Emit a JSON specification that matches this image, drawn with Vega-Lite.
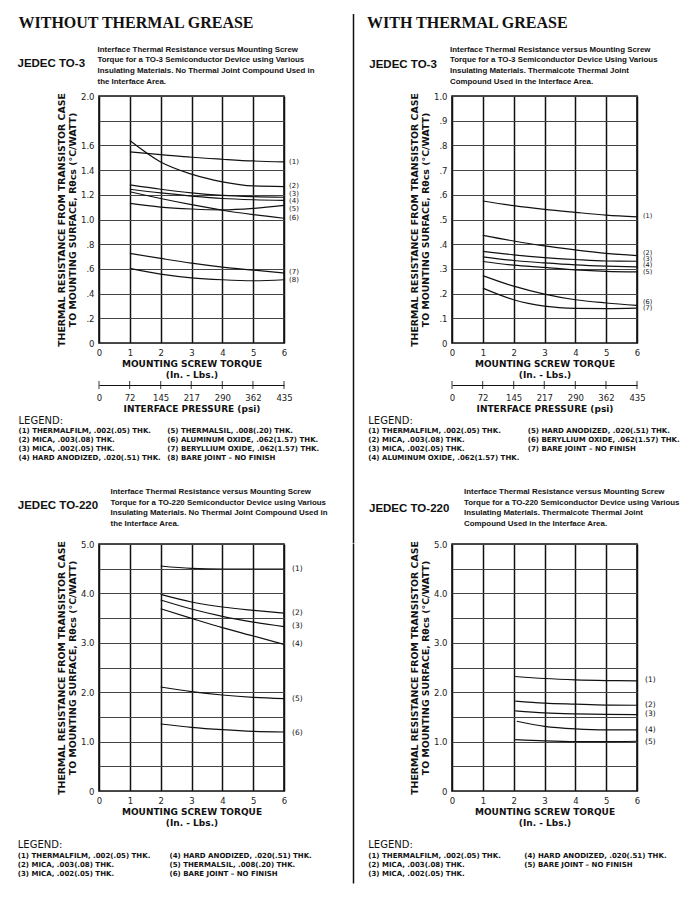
{
  "$schema": "https://vega.github.io/schema/vega-lite/v6.json",
  "padding": {"left": 17, "top": 13, "right": 5, "bottom": 5},
  "background": "white",
  "datasets": {
    "to3_dry": [
      {"curve":"(1)","torque":1,"r":1.547},{"curve":"(1)","torque":2,"r":1.526},{"curve":"(1)","torque":3,"r":1.504},{"curve":"(1)","torque":4,"r":1.488},{"curve":"(1)","torque":5,"r":1.474},{"curve":"(1)","torque":6,"r":1.466},
      {"curve":"(2)","torque":1,"r":1.64},{"curve":"(2)","torque":2,"r":1.466},{"curve":"(2)","torque":3,"r":1.367},{"curve":"(2)","torque":4,"r":1.305},{"curve":"(2)","torque":5,"r":1.272},{"curve":"(2)","torque":6,"r":1.267},
      {"curve":"(3)","torque":1,"r":1.28},{"curve":"(3)","torque":2,"r":1.245},{"curve":"(3)","torque":3,"r":1.215},{"curve":"(3)","torque":4,"r":1.195},{"curve":"(3)","torque":5,"r":1.185},{"curve":"(3)","torque":6,"r":1.18},
      {"curve":"(4)","torque":1,"r":1.245},{"curve":"(4)","torque":2,"r":1.215},{"curve":"(4)","torque":3,"r":1.19},{"curve":"(4)","torque":4,"r":1.17},{"curve":"(4)","torque":5,"r":1.16},{"curve":"(4)","torque":6,"r":1.155},
      {"curve":"(5)","torque":1,"r":1.13},{"curve":"(5)","torque":2,"r":1.1},{"curve":"(5)","torque":3,"r":1.085},{"curve":"(5)","torque":4,"r":1.078},{"curve":"(5)","torque":5,"r":1.09},{"curve":"(5)","torque":6,"r":1.115},
      {"curve":"(6)","torque":1,"r":1.225},{"curve":"(6)","torque":2,"r":1.17},{"curve":"(6)","torque":3,"r":1.12},{"curve":"(6)","torque":4,"r":1.075},{"curve":"(6)","torque":5,"r":1.04},{"curve":"(6)","torque":6,"r":1.01},
      {"curve":"(7)","torque":1,"r":0.725},{"curve":"(7)","torque":2,"r":0.685},{"curve":"(7)","torque":3,"r":0.647},{"curve":"(7)","torque":4,"r":0.615},{"curve":"(7)","torque":5,"r":0.59},{"curve":"(7)","torque":6,"r":0.566},
      {"curve":"(8)","torque":1,"r":0.604},{"curve":"(8)","torque":2,"r":0.558},{"curve":"(8)","torque":3,"r":0.528},{"curve":"(8)","torque":4,"r":0.512},{"curve":"(8)","torque":5,"r":0.504},{"curve":"(8)","torque":6,"r":0.512}
    ],
    "to3_dry_labels": [
      {"curve":"(1)","r":1.466},{"curve":"(2)","r":1.274},{"curve":"(3)","r":1.205},{"curve":"(4)","r":1.146},{"curve":"(5)","r":1.087},{"curve":"(6)","r":1.012},{"curve":"(7)","r":0.572},{"curve":"(8)","r":0.51}
    ],
    "to3_grease": [
      {"curve":"(1)","torque":1,"r":0.575},{"curve":"(1)","torque":2,"r":0.556},{"curve":"(1)","torque":3,"r":0.541},{"curve":"(1)","torque":4,"r":0.529},{"curve":"(1)","torque":5,"r":0.518},{"curve":"(1)","torque":6,"r":0.511},
      {"curve":"(2)","torque":1,"r":0.436},{"curve":"(2)","torque":2,"r":0.413},{"curve":"(2)","torque":3,"r":0.393},{"curve":"(2)","torque":4,"r":0.377},{"curve":"(2)","torque":5,"r":0.363},{"curve":"(2)","torque":6,"r":0.354},
      {"curve":"(3)","torque":1,"r":0.371},{"curve":"(3)","torque":2,"r":0.357},{"curve":"(3)","torque":3,"r":0.346},{"curve":"(3)","torque":4,"r":0.338},{"curve":"(3)","torque":5,"r":0.332},{"curve":"(3)","torque":6,"r":0.331},
      {"curve":"(4)","torque":1,"r":0.349},{"curve":"(4)","torque":2,"r":0.334},{"curve":"(4)","torque":3,"r":0.324},{"curve":"(4)","torque":4,"r":0.316},{"curve":"(4)","torque":5,"r":0.311},{"curve":"(4)","torque":6,"r":0.308},
      {"curve":"(5)","torque":1,"r":0.33},{"curve":"(5)","torque":2,"r":0.315},{"curve":"(5)","torque":3,"r":0.306},{"curve":"(5)","torque":4,"r":0.296},{"curve":"(5)","torque":5,"r":0.29},{"curve":"(5)","torque":6,"r":0.288},
      {"curve":"(6)","torque":1,"r":0.273},{"curve":"(6)","torque":2,"r":0.23},{"curve":"(6)","torque":3,"r":0.198},{"curve":"(6)","torque":4,"r":0.175},{"curve":"(6)","torque":5,"r":0.162},{"curve":"(6)","torque":6,"r":0.152},
      {"curve":"(7)","torque":1,"r":0.222},{"curve":"(7)","torque":2,"r":0.175},{"curve":"(7)","torque":3,"r":0.149},{"curve":"(7)","torque":4,"r":0.14},{"curve":"(7)","torque":5,"r":0.139},{"curve":"(7)","torque":6,"r":0.141}
    ],
    "to3_grease_labels": [
      {"curve":"(1)","r":0.514},{"curve":"(2)","r":0.366},{"curve":"(3)","r":0.34},{"curve":"(4)","r":0.314},{"curve":"(5)","r":0.288},{"curve":"(6)","r":0.166},{"curve":"(7)","r":0.14}
    ],
    "to220_dry": [
      {"curve":"(1)","torque":2,"r":4.555},{"curve":"(1)","torque":3,"r":4.507},{"curve":"(1)","torque":4,"r":4.494},{"curve":"(1)","torque":5,"r":4.494},{"curve":"(1)","torque":6,"r":4.494},
      {"curve":"(2)","torque":2,"r":3.98},{"curve":"(2)","torque":3,"r":3.826},{"curve":"(2)","torque":4,"r":3.725},{"curve":"(2)","torque":5,"r":3.657},{"curve":"(2)","torque":6,"r":3.6},
      {"curve":"(3)","torque":2,"r":3.866},{"curve":"(3)","torque":3,"r":3.684},{"curve":"(3)","torque":4,"r":3.536},{"curve":"(3)","torque":5,"r":3.42},{"curve":"(3)","torque":6,"r":3.327},
      {"curve":"(4)","torque":2,"r":3.69},{"curve":"(4)","torque":3,"r":3.495},{"curve":"(4)","torque":4,"r":3.306},{"curve":"(4)","torque":5,"r":3.138},{"curve":"(4)","torque":6,"r":2.969},
      {"curve":"(5)","torque":2,"r":2.105},{"curve":"(5)","torque":3,"r":2.011},{"curve":"(5)","torque":4,"r":1.943},{"curve":"(5)","torque":5,"r":1.896},{"curve":"(5)","torque":6,"r":1.869},
      {"curve":"(6)","torque":2,"r":1.356},{"curve":"(6)","torque":3,"r":1.289},{"curve":"(6)","torque":4,"r":1.242},{"curve":"(6)","torque":5,"r":1.208},{"curve":"(6)","torque":6,"r":1.194}
    ],
    "to220_dry_labels": [
      {"curve":"(1)","r":4.49},{"curve":"(2)","r":3.6},{"curve":"(3)","r":3.33},{"curve":"(4)","r":2.98},{"curve":"(5)","r":1.86},{"curve":"(6)","r":1.18}
    ],
    "to220_grease": [
      {"curve":"(1)","torque":2.05,"r":2.318},{"curve":"(1)","torque":3,"r":2.277},{"curve":"(1)","torque":4,"r":2.25},{"curve":"(1)","torque":5,"r":2.236},{"curve":"(1)","torque":6,"r":2.23},
      {"curve":"(2)","torque":2.05,"r":1.818},{"curve":"(2)","torque":3,"r":1.777},{"curve":"(2)","torque":4,"r":1.757},{"curve":"(2)","torque":5,"r":1.74},{"curve":"(2)","torque":6,"r":1.736},
      {"curve":"(3)","torque":2.05,"r":1.62},{"curve":"(3)","torque":3,"r":1.58},{"curve":"(3)","torque":4,"r":1.56},{"curve":"(3)","torque":5,"r":1.55},{"curve":"(3)","torque":6,"r":1.547},
      {"curve":"(4)","torque":2.1,"r":1.412},{"curve":"(4)","torque":3,"r":1.31},{"curve":"(4)","torque":4,"r":1.257},{"curve":"(4)","torque":5,"r":1.236},{"curve":"(4)","torque":6,"r":1.236},
      {"curve":"(5)","torque":2.05,"r":1.04},{"curve":"(5)","torque":3,"r":1.014},{"curve":"(5)","torque":4,"r":1.0},{"curve":"(5)","torque":5,"r":1.0},{"curve":"(5)","torque":6,"r":1.007}
    ],
    "to220_grease_labels": [
      {"curve":"(1)","r":2.24},{"curve":"(2)","r":1.74},{"curve":"(3)","r":1.55},{"curve":"(4)","r":1.23},{"curve":"(5)","r":1.0}
    ],
    "pressure": [{"psi":0},{"psi":72},{"psi":145},{"psi":217},{"psi":290},{"psi":362},{"psi":435}],
    "leg_to3_dry": [
      {"id":1,"label":"(1) THERMALFILM, .002(.05) THK."},
      {"id":2,"label":"(2) MICA, .003(.08) THK."},
      {"id":3,"label":"(3) MICA, .002(.05) THK."},
      {"id":4,"label":"(4) HARD ANODIZED, .020(.51) THK."},
      {"id":5,"label":"(5) THERMALSIL, .008(.20) THK."},
      {"id":6,"label":"(6) ALUMINUM OXIDE, .062(1.57) THK."},
      {"id":7,"label":"(7) BERYLLIUM OXIDE, .062(1.57) THK."},
      {"id":8,"label":"(8) BARE JOINT – NO FINISH"}
    ],
    "leg_to3_grease": [
      {"id":1,"label":"(1) THERMALFILM, .002(.05) THK."},
      {"id":2,"label":"(2) MICA, .003(.08) THK."},
      {"id":3,"label":"(3) MICA, .002(.05) THK."},
      {"id":4,"label":"(4) ALUMINUM OXIDE, .062(1.57) THK."},
      {"id":5,"label":"(5) HARD ANODIZED, .020(.51) THK."},
      {"id":6,"label":"(6) BERYLLIUM OXIDE, .062(1.57) THK."},
      {"id":7,"label":"(7) BARE JOINT – NO FINISH"}
    ],
    "leg_to220_dry": [
      {"id":1,"label":"(1) THERMALFILM, .002(.05) THK."},
      {"id":2,"label":"(2) MICA, .003(.08) THK."},
      {"id":3,"label":"(3) MICA, .002(.05) THK."},
      {"id":4,"label":"(4) HARD ANODIZED, .020(.51) THK."},
      {"id":5,"label":"(5) THERMALSIL, .008(.20) THK."},
      {"id":6,"label":"(6) BARE JOINT – NO FINISH"}
    ],
    "leg_to220_grease": [
      {"id":1,"label":"(1) THERMALFILM, .002(.05) THK."},
      {"id":2,"label":"(2) MICA, .003(.08) THK."},
      {"id":3,"label":"(3) MICA, .002(.05) THK."},
      {"id":4,"label":"(4) HARD ANODIZED, .020(.51) THK."},
      {"id":5,"label":"(5) BARE JOINT – NO FINISH"}
    ]
  },
  "columns": 3,
  "align": "each",
  "bounds": "flush",
  "spacing": {"row": 0, "column": 69.5},
  "concat": [
    {
      "width": 185, "height": 82, "view": {"stroke": null},
      "data": {"values": [{"heading": "WITHOUT THERMAL GREASE", "device": "JEDEC TO-3", "desc": "Interface Thermal Resistance versus Mounting Screw\nTorque for a TO-3 Semiconductor Device using Various\nInsulating Materials. No Thermal Joint Compound Used in\nthe Interface Area."}]},
      "encoding": {
        "x": {"datum": 0, "type": "quantitative", "scale": {"domain": [0, 1]}, "axis": null}
      },
      "layer": [
        {"mark": {"type": "text", "align": "left", "baseline": "alphabetic", "dx": -80.5, "font": "Liberation Serif", "fontSize": 16, "fontWeight": "bold", "color": "#111"},
         "encoding": {"y": {"datum": 0.174, "type": "quantitative", "scale": {"domain": [0, 1], "reverse": true, "nice": false}, "axis": null}, "text": {"field": "heading"}}},
        {"mark": {"type": "text", "align": "left", "baseline": "middle", "dx": -81.5, "font": "Liberation Sans", "fontSize": 11.5, "fontWeight": "bold", "color": "#111"},
         "encoding": {"y": {"datum": 0.613, "type": "quantitative", "axis": null}, "text": {"field": "device"}}},
        {"mark": {"type": "text", "align": "left", "baseline": "middle", "dx": -1.5, "font": "Liberation Sans", "fontSize": 7.9, "fontWeight": "bold", "lineBreak": "\n", "lineHeight": 10.7, "color": "#111"},
         "encoding": {"y": {"datum": 0.433, "type": "quantitative", "axis": null}, "text": {"field": "desc"}}}
      ]
    },
    {
      "width": 28.5, "height": 82, "view": {"stroke": null},
      "data": {"values": [{"part": "divider"}]},
      "mark": {"type": "rule", "color": "#111", "strokeWidth": 1.5},
      "encoding": {"x": {"datum": 0, "type": "quantitative", "scale": {"domain": [0, 1]}, "axis": null}}
    },
    {
      "width": 185, "height": 82, "view": {"stroke": null},
      "data": {"values": [{"heading": "WITH THERMAL GREASE", "device": "JEDEC TO-3", "desc": "Interface Thermal Resistance versus Mounting Screw\nTorque for a TO-3 Semiconductor Device Using Various\nInsulating Materials. Thermalcote Thermal Joint\nCompound Used in the Interface Area."}]},
      "encoding": {
        "x": {"datum": 0, "type": "quantitative", "scale": {"domain": [0, 1]}, "axis": null}
      },
      "layer": [
        {"mark": {"type": "text", "align": "left", "baseline": "alphabetic", "dx": -85, "font": "Liberation Serif", "fontSize": 16, "fontWeight": "bold", "color": "#111"},
         "encoding": {"y": {"datum": 0.174, "type": "quantitative", "scale": {"domain": [0, 1], "reverse": true, "nice": false}, "axis": null}, "text": {"field": "heading"}}},
        {"mark": {"type": "text", "align": "left", "baseline": "middle", "dx": -82.7, "font": "Liberation Sans", "fontSize": 11.5, "fontWeight": "bold", "color": "#111"},
         "encoding": {"y": {"datum": 0.622, "type": "quantitative", "axis": null}, "text": {"field": "device"}}},
        {"mark": {"type": "text", "align": "left", "baseline": "middle", "dx": -2, "font": "Liberation Sans", "fontSize": 7.9, "fontWeight": "bold", "lineBreak": "\n", "lineHeight": 10.7, "color": "#111"},
         "encoding": {"y": {"datum": 0.433, "type": "quantitative", "axis": null}, "text": {"field": "desc"}}}
      ]
    },
    {
      "width": 185, "height": 247,
      "layer": [
        {"data": {"name": "to3_dry"},
         "mark": {"type": "line", "color": "#111", "strokeWidth": 1.2, "interpolate": "monotone"},
         "encoding": {
           "x": {"field": "torque", "type": "quantitative", "scale": {"domain": [0, 6], "nice": false, "zero": false},
                 "axis": {"orient": "bottom", "values": [0,1,2,3,4,5,6], "grid": true, "gridColor": "#111", "gridWidth": 1.5, "labelPadding": 5, "labelFlush": false, "labelOverlap": false, "title": ["MOUNTING SCREW TORQUE", "(In. - Lbs.)"], "titleFontSize": 9, "titlePadding": 3, "titleLineHeight": 11}},
           "y": {"field": "r", "type": "quantitative", "scale": {"domain": [0, 2], "nice": false},
                 "axis": {"values": [0,0.2,0.4,0.6,0.8,1,1.2,1.4,1.6,1.8,2], "grid": true, "gridColor": "#444", "gridWidth": 1, "labelPadding": 5, "labelFlush": false, "labelOverlap": false, "labelExpr": "datum.value == 0 ? '0' : datum.value < 0.99 ? '.' + round(datum.value * 10) : abs(datum.value - 1.8) < 0.01 ? '' : format(datum.value, '.1f')", "title": ["THERMAL RESISTANCE FROM TRANSISTOR CASE", "TO MOUNTING SURFACE, Rθcs (°C/WATT)"], "titleFontSize": 9.4, "titlePadding": 3, "titleLineHeight": 10.5}},
           "detail": {"field": "curve", "type": "nominal"}
         }},
        {"data": {"name": "to3_dry_labels"},
         "mark": {"type": "text", "align": "left", "baseline": "middle", "dx": 5, "fontSize": 7, "color": "#111"},
         "encoding": {
           "x": {"datum": 6, "type": "quantitative",
                 "axis": {"orient": "bottom", "values": [0,1,2,3,4,5,6], "grid": true, "gridColor": "#111", "gridWidth": 1.5, "labelPadding": 5, "labelFlush": false, "labelOverlap": false, "title": ["MOUNTING SCREW TORQUE", "(In. - Lbs.)"], "titleFontSize": 9, "titlePadding": 3, "titleLineHeight": 11}},
           "y": {"field": "r", "type": "quantitative",
                 "axis": {"values": [0,0.2,0.4,0.6,0.8,1,1.2,1.4,1.6,1.8,2], "grid": true, "gridColor": "#444", "gridWidth": 1, "labelPadding": 5, "labelFlush": false, "labelOverlap": false, "labelExpr": "datum.value == 0 ? '0' : datum.value < 0.99 ? '.' + round(datum.value * 10) : abs(datum.value - 1.8) < 0.01 ? '' : format(datum.value, '.1f')", "title": ["THERMAL RESISTANCE FROM TRANSISTOR CASE", "TO MOUNTING SURFACE, Rθcs (°C/WATT)"], "titleFontSize": 9.4, "titlePadding": 3, "titleLineHeight": 10.5}},
           "text": {"field": "curve"}}}
      ]
    },
    {
      "width": 28.5, "height": 247, "view": {"stroke": null},
      "data": {"values": [{"part": "divider"}]},
      "mark": {"type": "rule", "color": "#111", "strokeWidth": 1.5},
      "encoding": {"x": {"datum": 0, "type": "quantitative", "scale": {"domain": [0, 1]}, "axis": null}}
    },
    {
      "width": 185, "height": 247,
      "layer": [
        {"data": {"name": "to3_grease"},
         "mark": {"type": "line", "color": "#111", "strokeWidth": 1.2, "interpolate": "monotone"},
         "encoding": {
           "x": {"field": "torque", "type": "quantitative", "scale": {"domain": [0, 6], "nice": false, "zero": false},
                 "axis": {"orient": "bottom", "values": [0,1,2,3,4,5,6], "grid": true, "gridColor": "#111", "gridWidth": 1.5, "labelPadding": 5, "labelFlush": false, "labelOverlap": false, "title": ["MOUNTING SCREW TORQUE", "(In. - Lbs.)"], "titleFontSize": 9, "titlePadding": 3, "titleLineHeight": 11}},
           "y": {"field": "r", "type": "quantitative", "scale": {"domain": [0, 1], "nice": false},
                 "axis": {"values": [0,0.1,0.2,0.3,0.4,0.5,0.6,0.7,0.8,0.9,1], "grid": true, "gridColor": "#444", "gridWidth": 1, "labelPadding": 5, "labelFlush": false, "labelOverlap": false, "labelExpr": "datum.value == 0 ? '0' : datum.value < 0.99 ? '.' + round(datum.value * 10) : format(datum.value, '.1f')", "title": ["THERMAL RESISTANCE FROM TRANSISTOR CASE", "TO MOUNTING SURFACE, Rθcs (°C/WATT)"], "titleFontSize": 9.4, "titlePadding": 3, "titleLineHeight": 10.5}},
           "detail": {"field": "curve", "type": "nominal"}
         }},
        {"data": {"name": "to3_grease_labels"},
         "mark": {"type": "text", "align": "left", "baseline": "middle", "dx": 6, "fontSize": 6.5, "color": "#111"},
         "encoding": {
           "x": {"datum": 6, "type": "quantitative",
                 "axis": {"orient": "bottom", "values": [0,1,2,3,4,5,6], "grid": true, "gridColor": "#111", "gridWidth": 1.5, "labelPadding": 5, "labelFlush": false, "labelOverlap": false, "title": ["MOUNTING SCREW TORQUE", "(In. - Lbs.)"], "titleFontSize": 9, "titlePadding": 3, "titleLineHeight": 11}},
           "y": {"field": "r", "type": "quantitative",
                 "axis": {"values": [0,0.1,0.2,0.3,0.4,0.5,0.6,0.7,0.8,0.9,1], "grid": true, "gridColor": "#444", "gridWidth": 1, "labelPadding": 5, "labelFlush": false, "labelOverlap": false, "labelExpr": "datum.value == 0 ? '0' : datum.value < 0.99 ? '.' + round(datum.value * 10) : format(datum.value, '.1f')", "title": ["THERMAL RESISTANCE FROM TRANSISTOR CASE", "TO MOUNTING SURFACE, Rθcs (°C/WATT)"], "titleFontSize": 9.4, "titlePadding": 3, "titleLineHeight": 10.5}},
           "text": {"field": "curve"}}}
      ]
    },
    {
      "width": 185, "height": 120, "view": {"stroke": null},
      "layer": [
        {"data": {"name": "pressure"},
         "mark": {"type": "tick", "orient": "vertical", "size": 8, "thickness": 1.2, "color": "#111"},
         "encoding": {"x": {"field": "psi", "type": "quantitative", "scale": {"domain": [0, 435], "nice": false},
                 "axis": {"orient": "bottom", "offset": -78, "values": [0,72,145,217,290,362,435], "domain": true, "domainColor": "#111", "domainWidth": 1.2, "ticks": false, "labelPadding": 8, "labelFlush": false, "labelOverlap": false, "grid": false, "title": "INTERFACE PRESSURE (psi)", "titleFontSize": 9, "titlePadding": 3}},
                      "y": {"datum": -4.144, "type": "quantitative", "scale": {"domain": [-8.811, 4.522], "reverse": true, "nice": false}, "axis": null}}},
        {"data": {"values": [{"heading": "LEGEND:"}]},
         "mark": {"type": "text", "align": "left", "baseline": "middle", "dx": -80.5, "fontSize": 10, "color": "#111"},
         "encoding": {"x": {"datum": 0, "type": "quantitative", "axis": {"orient": "bottom", "offset": -78, "values": [0,72,145,217,290,362,435], "domain": true, "domainColor": "#111", "domainWidth": 1.2, "ticks": false, "labelPadding": 8, "labelFlush": false, "labelOverlap": false, "grid": false, "title": "INTERFACE PRESSURE (psi)", "titleFontSize": 9, "titlePadding": 3}}, "y": {"datum": -0.144, "type": "quantitative", "axis": null}, "text": {"field": "heading"}}},
        {"data": {"name": "leg_to3_dry"}, "transform": [{"filter": "datum.id <= 4"}],
         "mark": {"type": "text", "align": "left", "baseline": "middle", "dx": -80.5, "fontSize": 7, "fontWeight": "bold", "color": "#111"},
         "encoding": {"x": {"datum": 0, "type": "quantitative", "axis": {"orient": "bottom", "offset": -78, "values": [0,72,145,217,290,362,435], "domain": true, "domainColor": "#111", "domainWidth": 1.2, "ticks": false, "labelPadding": 8, "labelFlush": false, "labelOverlap": false, "grid": false, "title": "INTERFACE PRESSURE (psi)", "titleFontSize": 9, "titlePadding": 3}}, "y": {"field": "id", "type": "quantitative", "axis": null}, "text": {"field": "label"}}},
        {"data": {"name": "leg_to3_dry"}, "transform": [{"filter": "datum.id >= 5"}],
         "mark": {"type": "text", "align": "left", "baseline": "middle", "dx": 68.2, "dy": -36, "fontSize": 7, "fontWeight": "bold", "color": "#111"},
         "encoding": {"x": {"datum": 0, "type": "quantitative", "axis": {"orient": "bottom", "offset": -78, "values": [0,72,145,217,290,362,435], "domain": true, "domainColor": "#111", "domainWidth": 1.2, "ticks": false, "labelPadding": 8, "labelFlush": false, "labelOverlap": false, "grid": false, "title": "INTERFACE PRESSURE (psi)", "titleFontSize": 9, "titlePadding": 3}}, "y": {"field": "id", "type": "quantitative", "axis": null}, "text": {"field": "label"}}}
      ]
    },
    {
      "width": 28.5, "height": 120, "view": {"stroke": null},
      "data": {"values": [{"part": "divider"}]},
      "mark": {"type": "rule", "color": "#111", "strokeWidth": 1.5},
      "encoding": {"x": {"datum": 0, "type": "quantitative", "scale": {"domain": [0, 1]}, "axis": null}}
    },
    {
      "width": 185, "height": 120, "view": {"stroke": null},
      "layer": [
        {"data": {"name": "pressure"},
         "mark": {"type": "tick", "orient": "vertical", "size": 8, "thickness": 1.2, "color": "#111"},
         "encoding": {"x": {"field": "psi", "type": "quantitative", "scale": {"domain": [0, 435], "nice": false},
                 "axis": {"orient": "bottom", "offset": -78, "values": [0,72,145,217,290,362,435], "domain": true, "domainColor": "#111", "domainWidth": 1.2, "ticks": false, "labelPadding": 8, "labelFlush": false, "labelOverlap": false, "grid": false, "title": "INTERFACE PRESSURE (psi)", "titleFontSize": 9, "titlePadding": 3}},
                      "y": {"datum": -4.144, "type": "quantitative", "scale": {"domain": [-8.811, 4.522], "reverse": true, "nice": false}, "axis": null}}},
        {"data": {"values": [{"heading": "LEGEND:"}]},
         "mark": {"type": "text", "align": "left", "baseline": "middle", "dx": -83.7, "fontSize": 10, "color": "#111"},
         "encoding": {"x": {"datum": 0, "type": "quantitative", "axis": {"orient": "bottom", "offset": -78, "values": [0,72,145,217,290,362,435], "domain": true, "domainColor": "#111", "domainWidth": 1.2, "ticks": false, "labelPadding": 8, "labelFlush": false, "labelOverlap": false, "grid": false, "title": "INTERFACE PRESSURE (psi)", "titleFontSize": 9, "titlePadding": 3}}, "y": {"datum": -0.144, "type": "quantitative", "axis": null}, "text": {"field": "heading"}}},
        {"data": {"name": "leg_to3_grease"}, "transform": [{"filter": "datum.id <= 4"}],
         "mark": {"type": "text", "align": "left", "baseline": "middle", "dx": -83.7, "fontSize": 7, "fontWeight": "bold", "color": "#111"},
         "encoding": {"x": {"datum": 0, "type": "quantitative", "axis": {"orient": "bottom", "offset": -78, "values": [0,72,145,217,290,362,435], "domain": true, "domainColor": "#111", "domainWidth": 1.2, "ticks": false, "labelPadding": 8, "labelFlush": false, "labelOverlap": false, "grid": false, "title": "INTERFACE PRESSURE (psi)", "titleFontSize": 9, "titlePadding": 3}}, "y": {"field": "id", "type": "quantitative", "axis": null}, "text": {"field": "label"}}},
        {"data": {"name": "leg_to3_grease"}, "transform": [{"filter": "datum.id >= 5"}],
         "mark": {"type": "text", "align": "left", "baseline": "middle", "dx": 75.7, "dy": -36, "fontSize": 7, "fontWeight": "bold", "color": "#111"},
         "encoding": {"x": {"datum": 0, "type": "quantitative", "axis": {"orient": "bottom", "offset": -78, "values": [0,72,145,217,290,362,435], "domain": true, "domainColor": "#111", "domainWidth": 1.2, "ticks": false, "labelPadding": 8, "labelFlush": false, "labelOverlap": false, "grid": false, "title": "INTERFACE PRESSURE (psi)", "titleFontSize": 9, "titlePadding": 3}}, "y": {"field": "id", "type": "quantitative", "axis": null}, "text": {"field": "label"}}}
      ]
    },
    {
      "width": 185, "height": 80.5, "view": {"stroke": null},
      "data": {"values": [{"device": "JEDEC TO-220", "desc": "Interface Thermal Resistance versus Mounting Screw\nTorque for a TO-220 Semiconductor Device using Various\nInsulating Materials. No Thermal Joint Compound Used in\nthe Interface Area."}]},
      "encoding": {
        "x": {"datum": 0, "type": "quantitative", "scale": {"domain": [0, 1]}, "axis": null}
      },
      "layer": [
        {"mark": {"type": "text", "align": "left", "baseline": "middle", "dx": -81.2, "font": "Liberation Sans", "fontSize": 11.5, "fontWeight": "bold", "color": "#111"},
         "encoding": {"y": {"datum": 0.534, "type": "quantitative", "scale": {"domain": [0, 1], "reverse": true, "nice": false}, "axis": null}, "text": {"field": "device"}}},
        {"mark": {"type": "text", "align": "left", "baseline": "middle", "dx": 11.5, "font": "Liberation Sans", "fontSize": 7.9, "fontWeight": "bold", "lineBreak": "\n", "lineHeight": 10.7, "color": "#111"},
         "encoding": {"y": {"datum": 0.36, "type": "quantitative", "axis": null}, "text": {"field": "desc"}}}
      ]
    },
    {
      "width": 28.5, "height": 80.5, "view": {"stroke": null},
      "data": {"values": [{"part": "divider"}]},
      "mark": {"type": "rule", "color": "#111", "strokeWidth": 1.5},
      "encoding": {"x": {"datum": 0, "type": "quantitative", "scale": {"domain": [0, 1]}, "axis": null}}
    },
    {
      "width": 185, "height": 80.5, "view": {"stroke": null},
      "data": {"values": [{"device": "JEDEC TO-220", "desc": "Interface Thermal Resistance versus Mounting Screw\nTorque for a TO-220 Semiconductor Device using Various\nInsulating Materials. Thermalcote Thermal Joint\nCompound Used in the Interface Area."}]},
      "encoding": {
        "x": {"datum": 0, "type": "quantitative", "scale": {"domain": [0, 1]}, "axis": null}
      },
      "layer": [
        {"mark": {"type": "text", "align": "left", "baseline": "middle", "dx": -83, "font": "Liberation Sans", "fontSize": 11.5, "fontWeight": "bold", "color": "#111"},
         "encoding": {"y": {"datum": 0.571, "type": "quantitative", "scale": {"domain": [0, 1], "reverse": true, "nice": false}, "axis": null}, "text": {"field": "device"}}},
        {"mark": {"type": "text", "align": "left", "baseline": "middle", "dx": 12, "font": "Liberation Sans", "fontSize": 7.9, "fontWeight": "bold", "lineBreak": "\n", "lineHeight": 10.7, "color": "#111"},
         "encoding": {"y": {"datum": 0.36, "type": "quantitative", "axis": null}, "text": {"field": "desc"}}}
      ]
    },
    {
      "width": 185, "height": 247,
      "layer": [
        {"data": {"name": "to220_dry"},
         "mark": {"type": "line", "color": "#111", "strokeWidth": 1.2, "interpolate": "monotone"},
         "encoding": {
           "x": {"field": "torque", "type": "quantitative", "scale": {"domain": [0, 6], "nice": false, "zero": false},
                 "axis": {"orient": "bottom", "values": [0,1,2,3,4,5,6], "grid": true, "gridColor": "#111", "gridWidth": 1.5, "labelPadding": 5, "labelFlush": false, "labelOverlap": false, "title": ["MOUNTING SCREW TORQUE", "(In. - Lbs.)"], "titleFontSize": 9, "titlePadding": 3, "titleLineHeight": 11}},
           "y": {"field": "r", "type": "quantitative", "scale": {"domain": [0, 5], "nice": false},
                 "axis": {"values": [0,0.5,1,1.5,2,2.5,3,3.5,4,4.5,5], "grid": true, "gridColor": "#444", "gridWidth": 1, "labelPadding": 5, "labelFlush": false, "labelOverlap": false, "labelExpr": "datum.value == 0 ? '0' : abs(datum.value - round(datum.value)) < 0.01 ? format(datum.value, '.1f') : ''", "title": ["THERMAL RESISTANCE FROM TRANSISTOR CASE", "TO MOUNTING SURFACE, Rθcs (°C/WATT)"], "titleFontSize": 9.4, "titlePadding": 3, "titleLineHeight": 10.5}},
           "detail": {"field": "curve", "type": "nominal"}
         }},
        {"data": {"name": "to220_dry_labels"},
         "mark": {"type": "text", "align": "left", "baseline": "middle", "dx": 8, "fontSize": 7.5, "color": "#111"},
         "encoding": {
           "x": {"datum": 6, "type": "quantitative",
                 "axis": {"orient": "bottom", "values": [0,1,2,3,4,5,6], "grid": true, "gridColor": "#111", "gridWidth": 1.5, "labelPadding": 5, "labelFlush": false, "labelOverlap": false, "title": ["MOUNTING SCREW TORQUE", "(In. - Lbs.)"], "titleFontSize": 9, "titlePadding": 3, "titleLineHeight": 11}},
           "y": {"field": "r", "type": "quantitative",
                 "axis": {"values": [0,0.5,1,1.5,2,2.5,3,3.5,4,4.5,5], "grid": true, "gridColor": "#444", "gridWidth": 1, "labelPadding": 5, "labelFlush": false, "labelOverlap": false, "labelExpr": "datum.value == 0 ? '0' : abs(datum.value - round(datum.value)) < 0.01 ? format(datum.value, '.1f') : ''", "title": ["THERMAL RESISTANCE FROM TRANSISTOR CASE", "TO MOUNTING SURFACE, Rθcs (°C/WATT)"], "titleFontSize": 9.4, "titlePadding": 3, "titleLineHeight": 10.5}},
           "text": {"field": "curve"}}}
      ]
    },
    {
      "width": 28.5, "height": 247, "view": {"stroke": null},
      "data": {"values": [{"part": "divider"}]},
      "mark": {"type": "rule", "color": "#111", "strokeWidth": 1.5},
      "encoding": {"x": {"datum": 0, "type": "quantitative", "scale": {"domain": [0, 1]}, "axis": null}}
    },
    {
      "width": 185, "height": 247,
      "layer": [
        {"data": {"name": "to220_grease"},
         "mark": {"type": "line", "color": "#111", "strokeWidth": 1.2, "interpolate": "monotone"},
         "encoding": {
           "x": {"field": "torque", "type": "quantitative", "scale": {"domain": [0, 6], "nice": false, "zero": false},
                 "axis": {"orient": "bottom", "values": [0,1,2,3,4,5,6], "grid": true, "gridColor": "#111", "gridWidth": 1.5, "labelPadding": 5, "labelFlush": false, "labelOverlap": false, "title": ["MOUNTING SCREW TORQUE", "(In. - Lbs.)"], "titleFontSize": 9, "titlePadding": 3, "titleLineHeight": 11}},
           "y": {"field": "r", "type": "quantitative", "scale": {"domain": [0, 5], "nice": false},
                 "axis": {"values": [0,0.5,1,1.5,2,2.5,3,3.5,4,4.5,5], "grid": true, "gridColor": "#444", "gridWidth": 1, "labelPadding": 5, "labelFlush": false, "labelOverlap": false, "labelExpr": "datum.value == 0 ? '0' : abs(datum.value - round(datum.value)) < 0.01 ? format(datum.value, '.1f') : ''", "title": ["THERMAL RESISTANCE FROM TRANSISTOR CASE", "TO MOUNTING SURFACE, Rθcs (°C/WATT)"], "titleFontSize": 9.4, "titlePadding": 3, "titleLineHeight": 10.5}},
           "detail": {"field": "curve", "type": "nominal"}
         }},
        {"data": {"name": "to220_grease_labels"},
         "mark": {"type": "text", "align": "left", "baseline": "middle", "dx": 8, "fontSize": 7.5, "color": "#111"},
         "encoding": {
           "x": {"datum": 6, "type": "quantitative",
                 "axis": {"orient": "bottom", "values": [0,1,2,3,4,5,6], "grid": true, "gridColor": "#111", "gridWidth": 1.5, "labelPadding": 5, "labelFlush": false, "labelOverlap": false, "title": ["MOUNTING SCREW TORQUE", "(In. - Lbs.)"], "titleFontSize": 9, "titlePadding": 3, "titleLineHeight": 11}},
           "y": {"field": "r", "type": "quantitative",
                 "axis": {"values": [0,0.5,1,1.5,2,2.5,3,3.5,4,4.5,5], "grid": true, "gridColor": "#444", "gridWidth": 1, "labelPadding": 5, "labelFlush": false, "labelOverlap": false, "labelExpr": "datum.value == 0 ? '0' : abs(datum.value - round(datum.value)) < 0.01 ? format(datum.value, '.1f') : ''", "title": ["THERMAL RESISTANCE FROM TRANSISTOR CASE", "TO MOUNTING SURFACE, Rθcs (°C/WATT)"], "titleFontSize": 9.4, "titlePadding": 3, "titleLineHeight": 10.5}},
           "text": {"field": "curve"}}}
      ]
    },
    {
      "width": 185, "height": 92.5, "view": {"stroke": null},
      "encoding": {
        "x": {"datum": 0, "type": "quantitative", "scale": {"domain": [0, 1]}, "axis": null}
      },
      "layer": [
        {"data": {"values": [{"heading": "LEGEND:"}]},
         "mark": {"type": "text", "align": "left", "baseline": "middle", "dx": -81.2, "fontSize": 10, "color": "#111"},
         "encoding": {"y": {"datum": -0.322, "type": "quantitative", "scale": {"domain": [-6.401, 4.051], "reverse": true, "nice": false}, "axis": null}, "text": {"field": "heading"}}},
        {"data": {"name": "leg_to220_dry"}, "transform": [{"filter": "datum.id <= 3"}],
         "mark": {"type": "text", "align": "left", "baseline": "middle", "dx": -81.2, "fontSize": 7, "fontWeight": "bold", "color": "#111"},
         "encoding": {"y": {"field": "id", "type": "quantitative", "axis": null}, "text": {"field": "label"}}},
        {"data": {"name": "leg_to220_dry"}, "transform": [{"filter": "datum.id >= 4"}],
         "mark": {"type": "text", "align": "left", "baseline": "middle", "dx": 70.5, "dy": -26.55, "fontSize": 7, "fontWeight": "bold", "color": "#111"},
         "encoding": {"y": {"field": "id", "type": "quantitative", "axis": null}, "text": {"field": "label"}}}
      ]
    },
    {
      "width": 28.5, "height": 92.5, "view": {"stroke": null},
      "data": {"values": [{"part": "divider"}]},
      "mark": {"type": "rule", "color": "#111", "strokeWidth": 1.5},
      "encoding": {"x": {"datum": 0, "type": "quantitative", "scale": {"domain": [0, 1]}, "axis": null}}
    },
    {
      "width": 185, "height": 92.5, "view": {"stroke": null},
      "encoding": {
        "x": {"datum": 0, "type": "quantitative", "scale": {"domain": [0, 1]}, "axis": null}
      },
      "layer": [
        {"data": {"values": [{"heading": "LEGEND:"}]},
         "mark": {"type": "text", "align": "left", "baseline": "middle", "dx": -83.7, "fontSize": 10, "color": "#111"},
         "encoding": {"y": {"datum": -0.322, "type": "quantitative", "scale": {"domain": [-6.401, 4.051], "reverse": true, "nice": false}, "axis": null}, "text": {"field": "heading"}}},
        {"data": {"name": "leg_to220_grease"}, "transform": [{"filter": "datum.id <= 3"}],
         "mark": {"type": "text", "align": "left", "baseline": "middle", "dx": -83.7, "fontSize": 7, "fontWeight": "bold", "color": "#111"},
         "encoding": {"y": {"field": "id", "type": "quantitative", "axis": null}, "text": {"field": "label"}}},
        {"data": {"name": "leg_to220_grease"}, "transform": [{"filter": "datum.id >= 4"}],
         "mark": {"type": "text", "align": "left", "baseline": "middle", "dx": 72.3, "dy": -26.55, "fontSize": 7, "fontWeight": "bold", "color": "#111"},
         "encoding": {"y": {"field": "id", "type": "quantitative", "axis": null}, "text": {"field": "label"}}}
      ]
    }
  ],
  "config": {
    "font": "DejaVu Sans",
    "view": {"stroke": "#111", "strokeWidth": 1.6},
    "axis": {"labelFont": "DejaVu Sans", "labelFontSize": 8.5, "labelColor": "#222", "titleFont": "DejaVu Sans", "titleFontWeight": "bold", "titleColor": "#111", "domain": false, "ticks": false},
    "text": {"color": "#111", "font": "DejaVu Sans"}
  }
}
